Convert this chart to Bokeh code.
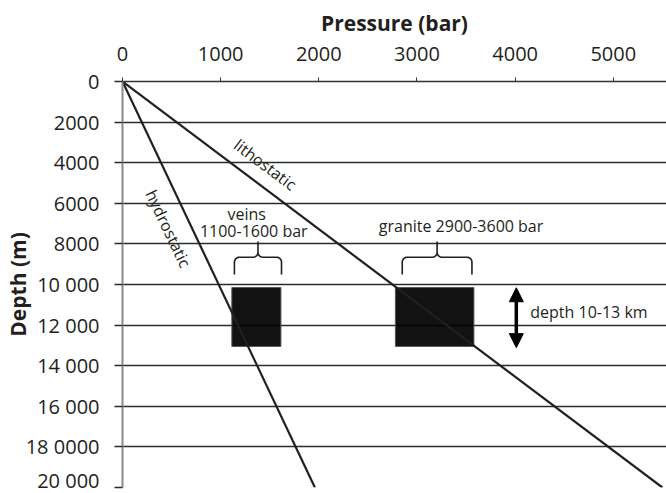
import numpy as np
from bokeh.plotting import figure
from bokeh.models import Range1d, FixedTicker, Arrow, NormalHead, ColumnDataSource
from bokeh.core.properties import value
from bokeh.embed import file_html
from bokeh.resources import INLINE

# ---- data ----
depth_ends = [0, 20000]                 # m
hydro_pressure = [0, 1960]              # bar
litho_pressure = [0, 5500]              # bar

x_ticks = [0, 1000, 2000, 3000, 4000, 5000]
y_ticks = [0, 2000, 4000, 6000, 8000, 10000, 12000, 14000, 16000, 18000, 20000]
y_tick_labels = ["0", "2000", "4000", "6000", "8000", "10 000", "12 000",
                 "14 000", "16 000", "18 0000", "20 000"]

box_left = [1114, 2780]
box_right = [1614, 3580]
box_top = [10150, 10150]
box_bottom = [13050, 13050]

brace_left = [1140, 2850]
brace_right = [1620, 3560]
brace_bottom = [9508, 9508]
brace_mid = [8657, 8657]
brace_peak = [7885, 7885]

arrow_x = 4012
arrow_top = 10160
arrow_bottom = 13110

label_text = ["lithostatic", "hydrostatic", "veins", "1100-1600 bar",
              "granite  2900-3600 bar", "depth 10-13 km"]
label_x = [1454, 466, 1266, 1337, 3470, 4154]
label_y = [4097, 7245, 6508, 7378, 7098, 11378]
label_angle = [-0.643, -1.127, 0, 0, 0, 0]
label_align = ["center", "center", "center", "center", "center", "left"]

INK = "#231f20"
FONT = "Open Sans"

p = figure(width=666, height=493, output_backend="svg", toolbar_location=None,
           x_axis_location="above",
           x_range=Range1d(0, 5542), y_range=Range1d(20000, 0),
           min_border_left=119, min_border_right=0, min_border_top=81,
           min_border_bottom=6)
p.outline_line_color = None
p.background_fill_color = "white"
p.border_fill_color = "white"

# axes
xa = p.xaxis[0]
xa.ticker = FixedTicker(ticks=x_ticks)
xa.axis_label = "Pressure (bar)"
xa.axis_label_text_font = FONT
xa.axis_label_text_font_style = "bold"
xa.axis_label_text_font_size = "21px"
xa.axis_label_text_color = INK
xa.axis_label_standoff = 7
xa.major_label_text_font = FONT
xa.major_label_text_font_size = "20px"
xa.major_label_text_color = INK
xa.major_label_standoff = 17
xa.major_tick_out = 4
xa.major_tick_in = 0
xa.minor_tick_line_color = None
xa.axis_line_color = "#333333"
xa.axis_line_width = 1.5
xa.major_tick_line_color = "#333333"

ya = p.yaxis[0]
ya.ticker = FixedTicker(ticks=y_ticks)
ya.major_label_overrides = {t: s for t, s in zip(y_ticks, y_tick_labels)}
ya.axis_label = "Depth (m)"
ya.axis_label_text_font = FONT
ya.axis_label_text_font_style = "bold"
ya.axis_label_text_font_size = "21px"
ya.axis_label_text_color = INK
ya.axis_label_standoff = -9
ya.major_label_text_font = FONT
ya.major_label_text_font_size = "20px"
ya.major_label_text_color = INK
ya.major_label_standoff = 15
ya.major_tick_out = 8
ya.major_tick_in = 0
ya.major_tick_line_color = "#2b2b2b"
ya.major_tick_line_width = 1.3
ya.minor_tick_line_color = None
ya.axis_line_color = "#8a8a8a"
ya.axis_line_width = 2

p.xgrid.grid_line_color = None
p.ygrid.ticker = FixedTicker(ticks=y_ticks)
p.ygrid.grid_line_color = "#2b2b2b"
p.ygrid.grid_line_width = 1.3

# boxes
p.quad(left=box_left, right=box_right, top=box_top, bottom=box_bottom,
       fill_color="#000000", fill_alpha=0.93, line_color="#555555", line_width=1)

# pressure lines
p.line(hydro_pressure, depth_ends, line_color=INK, line_width=2.2)
p.line(litho_pressure, depth_ends, line_color=INK, line_width=2.2)

# braces
xs, ys = [], []
rx, ry = 50.0, 246.0
t = np.linspace(0, np.pi / 2, 8)
for L, R, b, m, pk in zip(brace_left, brace_right, brace_bottom, brace_mid, brace_peak):
    C = (L + R) / 2
    hx = [L, L]
    hy = [b, m + ry]
    hx += list(L + rx - rx * np.cos(t))
    hy += list(m + ry - ry * np.sin(t))
    hx += list(C - rx + rx * np.sin(t))
    hy += list(m - ry + ry * np.cos(t))
    hx += [C]
    hy += [pk]
    rxs = [2 * C - v for v in hx[::-1]]
    rys = hy[::-1]
    xs.append(hx + rxs[1:])
    ys.append(hy + rys[1:])
p.multi_line(xs, ys, line_color=INK, line_width=1.6)

# double arrow
p.add_layout(Arrow(x_start=arrow_x, y_start=arrow_top, x_end=arrow_x, y_end=arrow_bottom,
                   line_width=3.5, line_color="#000000",
                   start=NormalHead(size=14, fill_color="#000000", line_color="#000000"),
                   end=NormalHead(size=14, fill_color="#000000", line_color="#000000")))

# labels
src = ColumnDataSource(dict(x=label_x, y=label_y, text=label_text,
                            angle=label_angle, align=label_align))
p.text(x="x", y="y", text="text", angle="angle", text_align="align",
       text_baseline="middle", text_font=value(FONT), text_font_size="16px",
       text_color=INK, source=src)

open("out.html", "w").write(file_html(p, INLINE))
